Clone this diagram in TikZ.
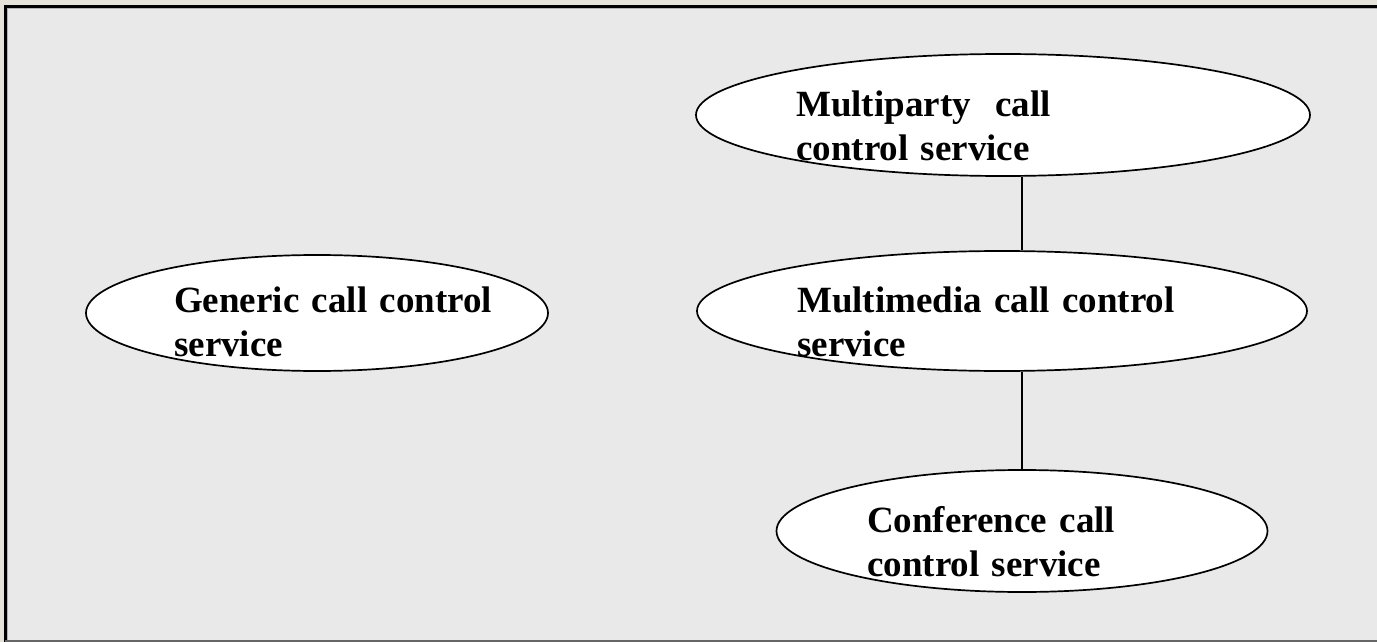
\documentclass[tikz,border=0pt]{standalone}
\usepackage{fontspec}
\setmainfont{Liberation Serif}[BoldFont={Liberation Serif Bold}]
\usetikzlibrary{shapes.geometric}
\definecolor{outerbg}{HTML}{E5E2DA}
\definecolor{innerbg}{HTML}{E9E9E9}
\begin{document}
\begin{tikzpicture}[x=1pt,y=-1pt,
  ell/.style={ellipse, draw=black, line width=1.7pt, fill=white, inner sep=0pt},
  lbl/.style={anchor=base west, inner sep=0pt, align=left, text width=600pt,
    font=\fontsize{37}{44}\selectfont\bfseries},
  conn/.style={draw=black, line width=1.3pt}]
\useasboundingbox (0,0) rectangle (1377,642);
\fill[outerbg] (0,0) rectangle (1377,642);
\fill[innerbg] (5,6) rectangle (1377,640);
\draw[black, line width=2.2pt] (5.5,642) -- (5.5,6.5) -- (1377,6.5);
\draw[gray!60, line width=1pt] (7.5,640) -- (7.5,8.5) -- (1377,8.5);
\draw[gray!80!black, line width=2pt] (5,640.5) -- (1377,640.5);
% ellipses
\node[ell, minimum width=614pt, minimum height=122pt] (mp) at (1003,115) {};
\node[ell, minimum width=462pt, minimum height=116pt] (gen) at (317,313) {};
\node[ell, minimum width=610pt, minimum height=120pt] (mm) at (1002,311) {};
\node[ell, minimum width=491pt, minimum height=122pt] (conf) at (1022,531) {};
% connectors
\coordinate (lx) at (1022,0);
\draw[conn] (mp.south -| lx) -- (mm.north -| lx);
\draw[conn] (mm.south -| lx) -- (conf.north);
% labels
\node[lbl] (mpt) at (796,117) {Multiparty\ \ call\\control service};
\node[lbl] (gent) at (174,312) {Generic call control\\service};
\node[lbl] (mmt) at (797,312) {Multimedia call control\\service};
\node[lbl] (conft) at (867,532) {Conference call\\control service};
\end{tikzpicture}
\end{document}
